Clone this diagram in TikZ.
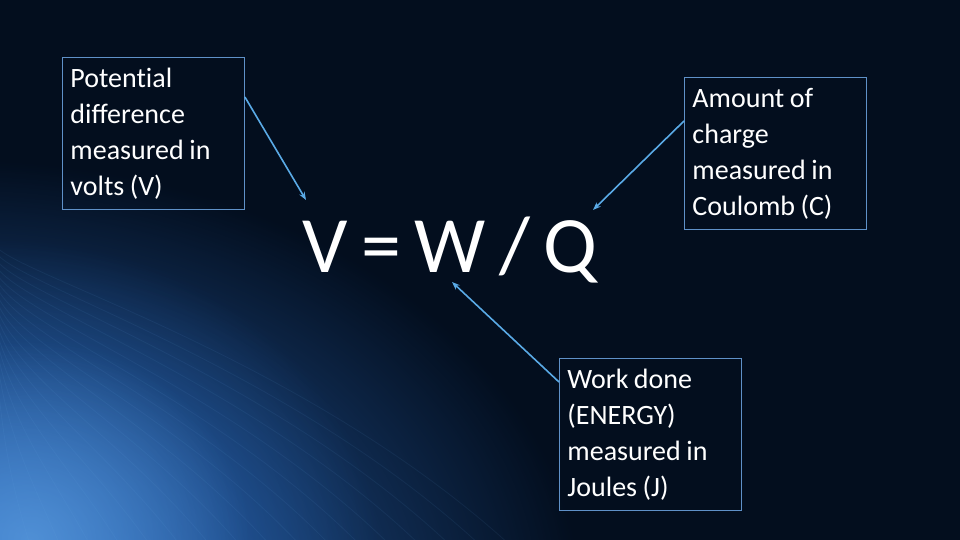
\documentclass[tikz,border=0pt]{standalone}
\usepackage{fontspec}
\setmainfont{Carlito}
\usetikzlibrary{arrows.meta,calc,fadings}
\tikzfading[name=glowfade, inner color=transparent!0, outer color=transparent!100]
\definecolor{bgc}{RGB}{3,14,30}
\definecolor{glow}{RGB}{45,110,195}
\definecolor{glowhi}{RGB}{110,175,235}
\definecolor{boxc}{RGB}{95,145,200}
\definecolor{arrc}{RGB}{90,170,230}
\newcommand\tightspace{\spaceskip=5.5pt plus 1pt minus 1pt\relax}
\tikzset{
  infobox/.style={draw=boxc, line width=0.9pt, text=white, anchor=north west,
    text width=166pt, align=left, inner xsep=8pt, inner ysep=0pt,
    minimum width=182pt, minimum height=152pt,
    font=\fontsize{28}{36}\selectfont},
  pointer/.style={draw=arrc, line width=1.6pt, -{Stealth[length=8pt,width=6pt]}},
  streak/.style={draw=glowhi, line width=0.8pt, opacity=0.08}
}
\begin{document}
\begin{tikzpicture}[x=1pt,y=-1pt]
\useasboundingbox (0,0) rectangle (960,540);
\fill[bgc] (0,0) rectangle (960,540);
\begin{scope}
\clip (0,0) rectangle (960,540);
\fill[glow, path fading=glowfade] (-40,600) ellipse [x radius=620, y radius=440];
\fill[glow, path fading=glowfade, opacity=0.85] (0,560) ellipse [x radius=380, y radius=320];
\fill[glowhi, path fading=glowfade, opacity=0.55] (30,540) ellipse [x radius=220, y radius=200];
\foreach \k in {0,...,16}{
  \draw[streak] (30+\k*30,545) .. controls (10+\k*18,480-\k*8) and (0,430-\k*10) .. (-5,340-\k*6);
}
\end{scope}
\node[infobox] (b1) at (62,57) {\tightspace Potent\kern0pt ial\\difference\\measured in\\volts (V)};
\node[infobox] (b2) at (684,77) {\tightspace Amount of\\charge\\measured in\\Coulomb (C)};
\node[infobox] (b3) at (559,358) {\tightspace Work done\\(ENERGY)\\measured in\\Joules (J)};
\node[text=white, font=\fontsize{80}{90}\selectfont, inner sep=0pt, anchor=base] (eq) at (450,272) {V\,=\,W\,/\,Q};
\coordinate (t1) at (306,200);
\coordinate (t2) at (593,210);
\coordinate (t3) at (452,282);
\draw[pointer] ($(b1.north east)+(0,40)$) -- (t1);
\draw[pointer] ($(b2.north west)+(0,44)$) -- (t2);
\draw[pointer] ($(b3.north west)+(0,24)$) -- (t3);
\end{tikzpicture}
\end{document}
